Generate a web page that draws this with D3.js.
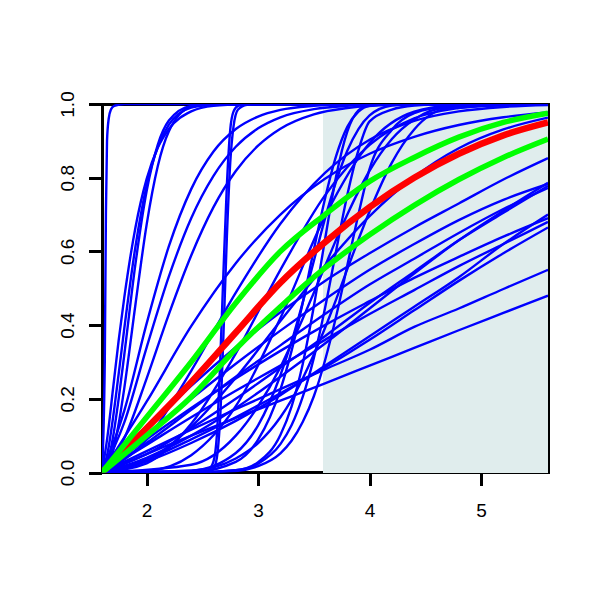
<!DOCTYPE html>
<html>
   <head>
      <script src="https://d3js.org/d3.v7.min.js"></script>
   </head>
   <style>
      body { margin: 0; background: #fff; }
   </style>
   <body>
      <script>
         // x grids the curves are sampled on
         const gridSpike = [1.6, 1.625, 1.635, 1.645, 1.66, 1.68, 1.71, 1.8, 5.6];
         const gridEarly = [1.6, 1.65, 1.7, 1.75, 1.8, 1.9, 2.0, 2.1, 2.2, 2.4, 2.6, 2.9, 3.2, 5.6];
         const gridMid = [1.6, 1.8, 2.0, 2.2, 2.4, 2.6, 2.8, 3.0, 3.2, 3.5, 3.8, 4.2, 5.6];
         const gridStep = [1.6, 2.5, 2.55, 2.6, 2.63, 2.66, 2.69, 2.72, 2.75, 2.78, 2.82, 2.9, 3.0, 5.6];
         const gridLate = [1.6, 2.4, 2.8, 3.0, 3.2, 3.3, 3.4, 3.5, 3.6, 3.7, 3.8, 3.9, 4.0, 4.2, 4.4, 4.7, 5.6];
         const gridWide = [1.6, 2.0, 2.4, 2.8, 3.2, 3.6, 4.0, 4.4, 4.8, 5.2, 5.6];

         // blue curves, y values
         const spikeCurves = [
            [0, 0.3, 0.7, 0.9, 0.96, 0.985, 0.995, 1, 1]
         ];
         const earlyCurves = [
            [0, 0.10, 0.23, 0.36, 0.475, 0.665, 0.796, 0.881, 0.932, 0.980, 0.995, 0.999, 1, 1],
            [0, 0.053, 0.151, 0.269, 0.391, 0.613, 0.778, 0.883, 0.944, 0.990, 0.998, 1, 1, 1],
            [0, 0.028, 0.098, 0.201, 0.32, 0.566, 0.763, 0.889, 0.955, 0.995, 1, 1, 1, 1],
            [0, 0.014, 0.059, 0.133, 0.229, 0.456, 0.672, 0.831, 0.926, 0.992, 1, 1, 1, 1]
         ];
         const midCurves = [
            [0, 0.168, 0.404, 0.614, 0.769, 0.871, 0.932, 0.966, 0.984, 0.995, 0.999, 1, 1],
            [0, 0.093, 0.255, 0.43, 0.589, 0.72, 0.818, 0.887, 0.933, 0.972, 0.989, 0.997, 1],
            [0, 0.136, 0.339, 0.532, 0.69, 0.805, 0.884, 0.934, 0.964, 0.986, 0.995, 0.999, 1]
         ];
         const stepCurves = [
            [0, 0, 0.005, 0.03, 0.1, 0.3, 0.55, 0.78, 0.93, 0.98, 0.995, 1, 1, 1],
            [0, 0, 0, 0.01, 0.04, 0.15, 0.38, 0.64, 0.84, 0.94, 0.985, 0.998, 1, 1]
         ];
         const lateCurves = [
            [0, 0, 0.006, 0.028, 0.102, 0.179, 0.294, 0.451, 0.632, 0.804, 0.925, 0.983, 0.998, 1, 1, 1, 1],
            [0, 0, 0.004, 0.017, 0.052, 0.086, 0.137, 0.207, 0.304, 0.424, 0.562, 0.701, 0.824, 0.93, 0.975, 0.993, 1],
            [0, 0.005, 0.053, 0.128, 0.264, 0.355, 0.461, 0.574, 0.689, 0.79, 0.873, 0.932, 0.969, 0.996, 1, 1, 1],
            [0, 0, 0.006, 0.024, 0.077, 0.128, 0.205, 0.311, 0.446, 0.602, 0.753, 0.875, 0.953, 0.985, 0.996, 1, 1],
            [0, 0.001, 0.029, 0.089, 0.225, 0.33, 0.46, 0.605, 0.743, 0.859, 0.938, 0.979, 0.995, 1, 1, 1, 1],
            [0, 0.005, 0.038, 0.08, 0.15, 0.197, 0.255, 0.32, 0.392, 0.47, 0.552, 0.632, 0.709, 0.841, 0.931, 0.988, 1],
            [0, 0.021, 0.1, 0.18, 0.286, 0.35, 0.417, 0.488, 0.56, 0.632, 0.70, 0.763, 0.819, 0.905, 0.958, 0.991, 1]
         ];
         const wideCurves = [
            [0, 0.192, 0.397, 0.568, 0.70, 0.797, 0.865, 0.911, 0.943, 0.964, 0.977],
            [0, 0.089, 0.276, 0.488, 0.675, 0.813, 0.903, 0.954, 0.98, 0.992, 0.997],
            [0, 0.025, 0.132, 0.323, 0.55, 0.752, 0.889, 0.961, 0.989, 0.998, 1],
            [0, 0.004, 0.047, 0.18, 0.419, 0.695, 0.894, 0.979, 0.998, 1, 1],
            [0, 0.032, 0.124, 0.257, 0.411, 0.562, 0.696, 0.802, 0.88, 0.931, 0.963],
            [0, 0.05, 0.10, 0.148, 0.195, 0.242, 0.29, 0.338, 0.386, 0.433, 0.48],
            [0, 0.058, 0.116, 0.172, 0.226, 0.28, 0.333, 0.395, 0.445, 0.498, 0.55],
            [0, 0.035, 0.09, 0.15, 0.215, 0.285, 0.36, 0.44, 0.52, 0.595, 0.665],
            [0, 0.075, 0.15, 0.222, 0.29, 0.36, 0.43, 0.495, 0.56, 0.62, 0.68],
            [0, 0.09, 0.175, 0.255, 0.33, 0.40, 0.465, 0.528, 0.585, 0.64, 0.69],
            [0, 0.03, 0.08, 0.14, 0.21, 0.29, 0.37, 0.45, 0.53, 0.62, 0.70],
            [0, 0.08, 0.17, 0.26, 0.345, 0.43, 0.51, 0.58, 0.65, 0.715, 0.772],
            [0, 0.05, 0.12, 0.2, 0.285, 0.37, 0.46, 0.545, 0.63, 0.705, 0.778],
            [0, 0.1, 0.2, 0.295, 0.385, 0.47, 0.55, 0.62, 0.685, 0.74, 0.783],
            [0, 0.04, 0.10, 0.175, 0.26, 0.35, 0.445, 0.54, 0.63, 0.71, 0.786],
            [0, 0.12, 0.235, 0.34, 0.435, 0.52, 0.595, 0.665, 0.73, 0.795, 0.853]
         ];

         // thick curves
         const redCurve = [0, 0.12, 0.245, 0.38, 0.515, 0.625, 0.72, 0.80, 0.865, 0.915, 0.95];
         const greenUpper = [0, 0.15, 0.30, 0.46, 0.60, 0.70, 0.79, 0.855, 0.91, 0.95, 0.975];
         const greenLower = [0, 0.10, 0.205, 0.335, 0.45, 0.555, 0.645, 0.725, 0.795, 0.855, 0.905];

         const shadeFrom = 3.58;
         const xTicks = [2, 3, 4, 5];
         const yTicks = [0, 0.2, 0.4, 0.6, 0.8, 1.0];

         let svg = d3.select('body').append('svg').attr('width', 600).attr('height', 600);
         svg.append('rect').attr('width', 600).attr('height', 600).attr('fill', '#fff');

         let x = d3.scaleLinear().domain([1.6, 5.6]).range([102, 548]);
         let y = d3.scaleLinear().domain([0, 1]).range([472.5, 104]);

         svg.append('clipPath').attr('id', 'plotClip')
            .append('rect')
            .attr('x', x(1.6)).attr('y', y(1))
            .attr('width', x(5.6) - x(1.6)).attr('height', y(0) - y(1));

         // frame
         svg.append('rect')
            .attr('x', x(1.6)).attr('y', y(1))
            .attr('width', x(5.6) - x(1.6)).attr('height', y(0) - y(1))
            .attr('fill', 'none').attr('stroke', '#000').attr('stroke-width', 3)
            .attr('shape-rendering', 'crispEdges');

         // shaded region (drawn over the inner half of the frame)
         svg.append('rect')
            .attr('x', x(shadeFrom)).attr('y', y(1))
            .attr('width', x(5.6) - x(shadeFrom)).attr('height', y(0) - y(1))
            .attr('fill', '#e0eded')
            .attr('shape-rendering', 'crispEdges');

         let line = d3.line()
            .x(d => x(d[0]))
            .y(d => y(d[1]))
            .curve(d3.curveMonotoneX);

         let plot = svg.append('g').attr('clip-path', 'url(#plotClip)');

         let groups = [
            [gridSpike, spikeCurves],
            [gridEarly, earlyCurves],
            [gridMid, midCurves],
            [gridStep, stepCurves],
            [gridLate, lateCurves],
            [gridWide, wideCurves]
         ];
         groups.forEach(([grid, curves]) => {
            plot.selectAll(null)
               .data(curves.map(ys => grid.map((g, i) => [g, ys[i]])))
               .enter()
               .append('path')
               .attr('d', line)
               .attr('fill', 'none')
               .attr('stroke', '#0000ff')
               .attr('stroke-width', 2.4);
         });

         plot.append('path')
            .attr('d', line(gridWide.map((g, i) => [g, redCurve[i]])))
            .attr('fill', 'none').attr('stroke', '#ff0000').attr('stroke-width', 6.5);

         [greenUpper, greenLower].forEach(ys => {
            plot.append('path')
               .attr('d', line(gridWide.map((g, i) => [g, ys[i]])))
               .attr('fill', 'none').attr('stroke', '#00ff00').attr('stroke-width', 5.5);
         });

         // axes
         let xAxis = svg.append('g')
            .attr('transform', `translate(0, ${y(0)})`)
            .call(d3.axisBottom(x).tickValues(xTicks).tickSize(13).tickPadding(18).tickFormat(d3.format('d')));
         let yAxis = svg.append('g')
            .attr('transform', `translate(${x(1.6)}, 0)`)
            .call(d3.axisLeft(y).tickValues(yTicks).tickSize(13).tickFormat(d3.format('.1f')));

         [xAxis, yAxis].forEach(a => {
            a.select('.domain').remove();
            a.selectAll('line').attr('stroke', '#000').attr('stroke-width', 3)
               .attr('shape-rendering', 'crispEdges');
            a.selectAll('text')
               .attr('fill', '#000')
               .style('font-family', '"Liberation Sans", Arial, sans-serif')
               .style('font-size', '19px');
         });

         yAxis.selectAll('text')
            .attr('x', null).attr('dy', null)
            .attr('text-anchor', 'middle')
            .attr('transform', 'translate(-28, 0) rotate(-90)');
      </script>
   </body>
</html>
